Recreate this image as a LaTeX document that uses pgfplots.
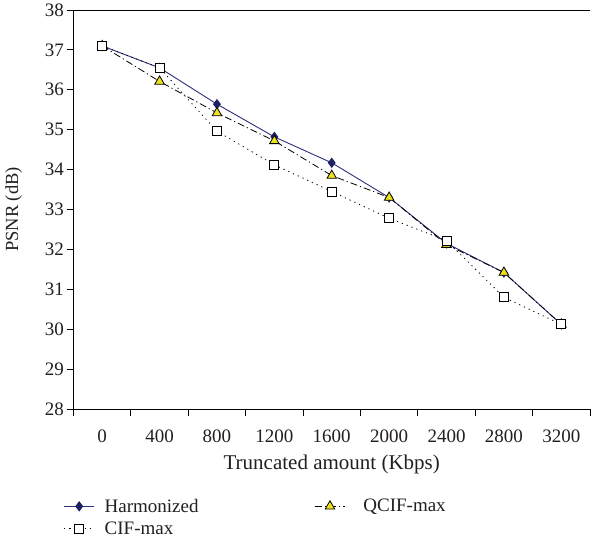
\documentclass[border=0pt]{standalone}
\usepackage{fontspec}
\setmainfont{Liberation Serif}
\usepackage{pgfplots}
\pgfplotsset{compat=1.18}
\definecolor{harm}{RGB}{45,48,125}
\definecolor{harmmark}{RGB}{30,32,100}
\definecolor{triy}{RGB}{240,225,30}
\definecolor{txt}{RGB}{35,31,32}

\begin{document}
\begin{tikzpicture}
\path[use as bounding box] (-73.5pt,-137pt) rectangle (521.5pt,409pt);
\begin{axis}[
  scale only axis, width=516.5pt, height=399pt,
  at={(0,0)}, anchor=south west,
  xmin=-0.5, xmax=8.5, ymin=28, ymax=38,
  axis x line*=bottom, axis y line*=left,
  xtick={0,...,8},
  xticklabels={0,400,800,1200,1600,2000,2400,2800,3200},
  minor xtick={-0.5,0.5,...,8.5},
  ytick={28,...,38},
  tick align=outside, tick pos=left,
  major tick length=6pt, minor tick length=7pt,
  major x tick style={draw=none},
  every tick/.style={black, line width=0.8pt},
  axis line style={black, line width=0.8pt},
  font=\fontsize{19}{22}\selectfont,
  tick label style={font=\fontsize{19}{22}\selectfont, text=txt},
  xlabel style={font=\fontsize{21}{24}\selectfont, text=txt, yshift=-6pt},
  ylabel style={font=\fontsize{18.5}{22}\selectfont, text=txt, yshift=16pt},
  /pgf/number format/assume math mode=true,
  xlabel={Truncated amount (Kbps)},
  ylabel={PSNR (dB)},
  xticklabel style={yshift=-11pt},
  legend columns=2,
  legend cell align=left,
  legend style={draw=none, at={(axis description cs:-0.025,-0.215)}, anchor=north west,
    font=\fontsize{19}{22}\selectfont, text=txt,
    /tikz/column 1/.style={column sep=8pt},
    /tikz/column 3/.style={column sep=16pt},
    /tikz/column 2/.style={column sep=114pt},
    row sep=4pt},
  legend image code/.code={\draw[mark repeat=2,mark phase=2,#1] plot coordinates {(0pt,0pt)(15pt,0pt)(30pt,0pt)};},
]
\draw[black, line width=0.8pt] (rel axis cs:0,1) -- (rel axis cs:1,1);
\addplot[harm, line width=0.9pt, mark=diamond*, mark size=4.5pt, mark options={solid, fill=harmmark, draw=harmmark}] coordinates {
  (0,37.10) (1,36.55) (2,35.64) (3,34.82) (4,34.17) (5,33.30) (6,32.15) (7,31.42) (8,30.12)};
\addlegendentry{Harmonized}
\addplot[black, line width=0.8pt, dash pattern=on 7pt off 3pt on 1.2pt off 3pt, mark=triangle*, mark size=5.5pt, mark options={solid, fill=triy, draw=black, line width=0.8pt}] coordinates {
  (0,37.10) (1,36.21) (2,35.42) (3,34.72) (4,33.85) (5,33.30) (6,32.12) (7,31.42) (8,30.12)};
\addlegendentry{QCIF-max}
\addplot[black, line width=0.8pt, dash pattern=on 1.2pt off 4pt, mark=square*, mark size=4.5pt, mark options={solid, fill=white, draw=black, line width=0.9pt}] coordinates {
  (0,37.10) (1,36.55) (2,34.96) (3,34.12) (4,33.45) (5,32.78) (6,32.22) (7,30.80) (8,30.12)};
\addlegendentry{CIF-max}
\end{axis}
\end{tikzpicture}
\end{document}
